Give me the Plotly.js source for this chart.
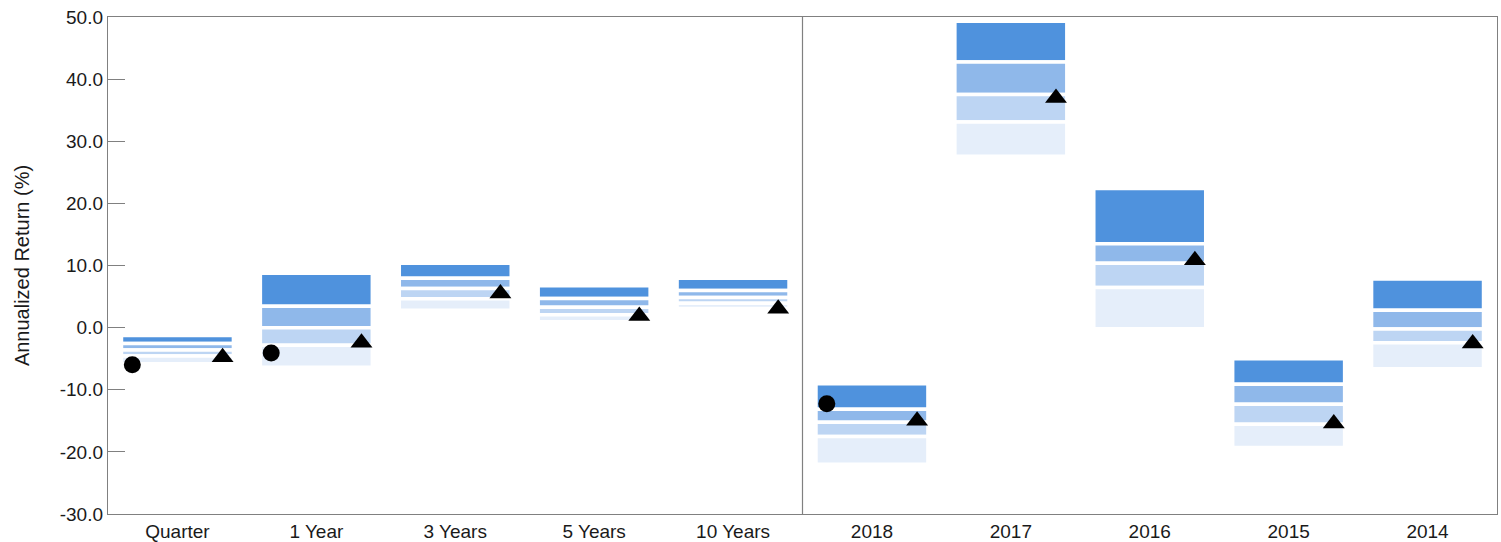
<!DOCTYPE html>
<html>
<head>
<meta charset="utf-8">
<script src="https://cdn.plot.ly/plotly-3.0.1.min.js"></script>
<style>
  html, body { margin: 0; padding: 0; background: #ffffff; }
  #chart { width: 1501px; height: 542px; }
</style>
</head>
<body>
<div id="chart"></div>
<script>
// Categories: trailing periods followed by calendar years
const periodLabels = ['Quarter', '1 Year', '3 Years', '5 Years', '10 Years'];
const yearLabels = ['2018', '2017', '2016', '2015', '2014'];
const categories = periodLabels.concat(yearLabels);

// Y-axis tick values
const yTickValues = [-30, -20, -10, 0, 10, 20, 30, 40, 50];

// Peer-group percentile boundaries (annualized return, %)
const p05 = [-1.27, 8.75, 10.37, 6.76, 7.94, -9.03, 49.32, 22.38, -4.99, 7.83];
const p25 = [-2.57, 3.43, 7.93, 4.67, 5.96, -13.14, 42.76, 13.50, -9.12, 2.81];
const p50 = [-3.60, -0.04, 6.31, 3.26, 4.86, -15.23, 37.51, 10.35, -12.33, -0.23];
const p75 = [-4.57, -2.84, 4.64, 2.06, 3.94, -17.52, 33.11, 6.45, -15.56, -2.42];
const p95 = [-5.83, -6.36, 2.80, 0.96, 3.06, -21.99, 27.58, -0.17, -19.29, -6.63];

// Portfolio (circle) and benchmark (triangle) returns
const portfolio = [-5.96, -4.08, null, null, null, -12.27, null, null, null, null];
const benchmark = [-4.78, -2.44, 5.51, 1.87, 3.02, -15.01, 36.96, 10.84, -15.42, -2.55];

const bandColors = ['#4f92dd', '#8fb8ea', '#bdd5f3', '#e5eefa'];
const bounds = [p05, p25, p50, p75, p95];
const idx = categories.map((_, i) => i);

const traces = [];
for (let b = 0; b < 4; b++) {
  const upper = bounds[b], lower = bounds[b + 1];
  traces.push({
    type: 'bar',
    x: idx,
    base: lower,
    y: upper.map((u, i) => u - lower[i]),
    width: 0.806,
    marker: { color: bandColors[b], line: { color: '#ffffff', width: 3.5 } },
    hoverinfo: 'skip',
    showlegend: false
  });
}
const markerOffset = 0.325;
traces.push({
  type: 'scatter', mode: 'markers',
  x: idx.map(i => i - markerOffset), y: portfolio,
  marker: { symbol: 'circle', size: 17, color: '#000000' },
  showlegend: false, hoverinfo: 'skip'
});
traces.push({
  type: 'scatter', mode: 'markers',
  x: idx.map(i => i + markerOffset), y: benchmark,
  marker: { symbol: 'triangle-up', size: 19, color: '#000000' },
  showlegend: false, hoverinfo: 'skip'
});

const axisColor = '#808080';
const layout = {
  width: 1501, height: 542,
  margin: { l: 108, r: 4, t: 17, b: 28, pad: 0 },
  paper_bgcolor: '#ffffff', plot_bgcolor: '#ffffff',
  barmode: 'overlay',
  showlegend: false,
  font: { family: 'Liberation Sans, Arial, sans-serif', color: '#1a1a1a' },
  xaxis: {
    range: [-0.5, categories.length - 0.5],
    tickvals: idx, ticktext: categories,
    tickfont: { size: 19, color: '#1a1a1a' },
    ticks: '', showgrid: false, zeroline: false,
    showline: true, mirror: true, linecolor: axisColor, linewidth: 1.2,
    fixedrange: true
  },
  yaxis: {
    range: [-30, 50],
    tickvals: yTickValues, ticktext: yTickValues.map(v => v.toFixed(1)),
    tickfont: { size: 19, color: '#1a1a1a' },
    ticks: 'inside', ticklen: 17, tickcolor: axisColor, tickwidth: 1,
    showgrid: false, zeroline: false,
    showline: true, mirror: true, linecolor: axisColor, linewidth: 1.2,
    title: { text: 'Annualized Return (%)', font: { size: 20, color: '#1a1a1a' }, standoff: 24 },
    automargin: false,
    fixedrange: true
  },
  shapes: [{
    type: 'line', xref: 'x', yref: 'paper',
    x0: periodLabels.length - 0.5, x1: periodLabels.length - 0.5, y0: 0, y1: 1,
    line: { color: axisColor, width: 1.2 }
  }]
};

Plotly.newPlot('chart', traces, layout, { displayModeBar: false, staticPlot: true });
</script>
</body>
</html>
